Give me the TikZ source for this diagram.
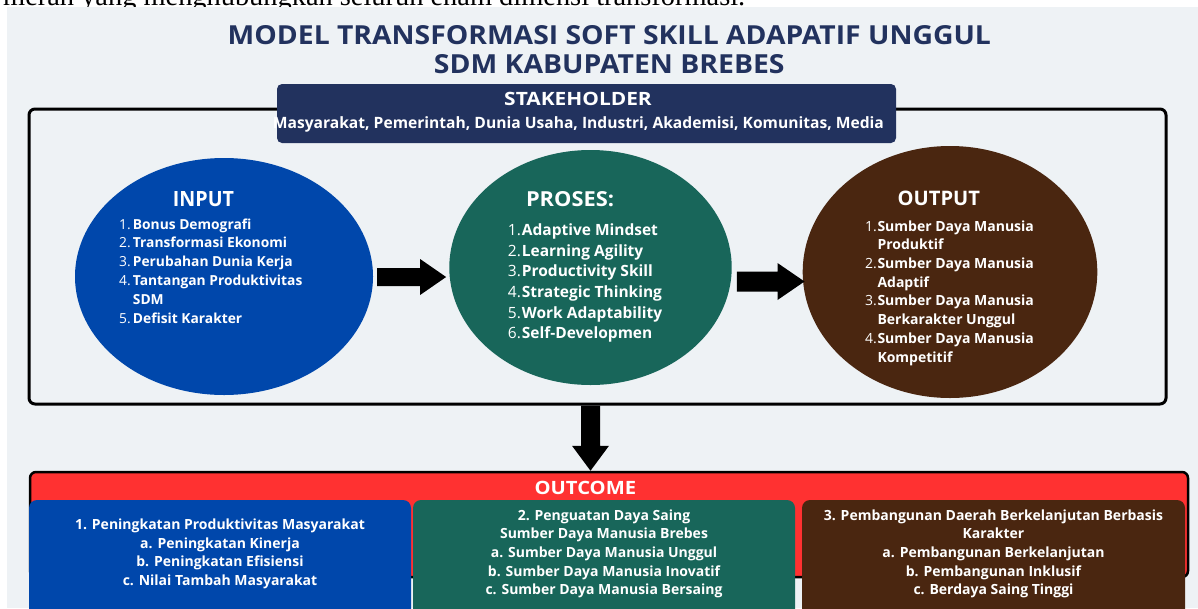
\documentclass[tikz,border=0pt]{standalone}
\usepackage{fontspec}
\setmainfont{Open Sans}
\newfontfamily\leadserif{Liberation Serif}
\usetikzlibrary{shapes.geometric,calc}

\definecolor{pagegrey}{HTML}{EEF2F5}
\definecolor{navyink}{HTML}{22325E}
\definecolor{inblue}{HTML}{0047AB}
\definecolor{procgreen}{HTML}{18665A}
\definecolor{outbrown}{HTML}{4A2610}
\definecolor{outred}{HTML}{FF3131}

\tikzset{
  caps/.style={inner sep=0pt, text=white, font=\bfseries},
  blob/.style={ellipse, inner sep=0pt},
  numtxt/.style={anchor=base west, inner sep=0pt, text=white, font=\fontsize{#1}{#1}\selectfont},
  itemtxt/.style={anchor=base west, inner sep=0pt, text=white, font=\fontsize{#1}{#1}\selectfont\bfseries},
  ocline/.style={anchor=base, inner sep=0pt, text=white, font=\fontsize{14}{16}\selectfont\bfseries},
  ocbox/.style={rectangle, rounded corners=8pt, inner sep=0pt, minimum width=382pt, minimum height=140pt},
  blockfill/.style={fill=black},
}

\begin{document}
\begin{tikzpicture}[x=1pt, y=-1pt]
\useasboundingbox (0,0) rectangle (1198,608);
\clip (0,0) rectangle (1198,608);

% running text of the page above the figure
\node[anchor=base west, inner sep=0pt] (lead) at (3,5)
  {\resizebox{742pt}{!}{\leadserif merah yang menghubungkan seluruh enam dimensi transformasi.}};
\fill[pagegrey] (7.3,7.3) rectangle (1198,608);

% title
\node[inner sep=0pt, text=navyink, font=\bfseries] (title1) at (609.3,35.5)
  {\resizebox{763pt}{19pt}{MODEL TRANSFORMASI SOFT SKILL ADAPATIF UNGGUL}};
\node[inner sep=0pt, text=navyink, font=\bfseries] (title2) at (609.3,64.2)
  {\resizebox{350.6pt}{19pt}{SDM KABUPATEN BREBES}};

% main frame
\node[draw=black, line width=3pt, rounded corners=6pt, minimum width=1137pt,
      minimum height=295pt, inner sep=0pt] (frame) at (597.5,256.5) {};

% stakeholder banner
\node[fill=navyink, rounded corners=5pt, minimum width=619pt, minimum height=59pt,
      inner sep=0pt] (stake) at (586.5,113.5) {};
\node[caps] (stakehead) at (578,99.3) {\resizebox{147.5pt}{13.3pt}{STAKEHOLDER}};
\node[anchor=base, inner sep=0pt, text=white, font=\fontsize{15}{15}\selectfont\bfseries] (stakelist) at (578.4,128.3)
  {\resizebox{611pt}{!}{Masyarakat, Pemerintah, Dunia Usaha, Industri, Akademisi, Komunitas, Media}};

% three stages
\node[blob, fill=inblue, minimum width=298pt, minimum height=237pt] (inp) at (224,276.5) {};
\node[blob, fill=procgreen, minimum width=282.4pt, minimum height=235pt] (pros) at (590.5,267.5) {};
\node[blob, fill=outbrown, minimum width=294.6pt, minimum height=252pt] (outp) at (950,272) {};

\node[caps] (inphead) at (203.5,199.2) {\resizebox{61pt}{15pt}{INPUT}};
\node[caps] (proshead) at (570,199.2) {\resizebox{88pt}{15pt}{PROSES:}};
\node[caps] (outphead) at (938.8,198.5) {\resizebox{82.3pt}{14.5pt}{OUTPUT}};

% input list
\foreach \n/\k in {1./1, 2./2, 3./3, 4./4, 5./6}
  \node[numtxt=13.8] (inpn\k) at (119,{229+18.8*(\k-1)}) {\n};
\foreach \t [count=\i] in {Bonus Demografi, Transformasi Ekonomi, Perubahan Dunia Kerja,
                           Tantangan Produktivitas, SDM, Defisit Karakter}
  \node[itemtxt=13.8] (inpt\i) at (132.7,{229+18.8*(\i-1)}) {\t};

% process list
\foreach \t [count=\i] in {Adaptive Mindset, Learning Agility, Productivity Skill,
                           Strategic Thinking, Work Adaptability, Self-Developmen}
{
  \node[numtxt=15.5] (prosn\i) at (507.7,{235.3+20.7*(\i-1)}) {\i.};
  \node[itemtxt=15.5] (prost\i) at (521.7,{235.3+20.7*(\i-1)}) {\t};
}

% output list
\foreach \n/\k in {1./1, 2./3, 3./5, 4./7}
  \node[numtxt=14] (outpn\k) at (865,{231+18.73*(\k-1)}) {\n};
\foreach \t [count=\i] in {Sumber Daya Manusia, Produktif, Sumber Daya Manusia, Adaptif,
                           Sumber Daya Manusia, Berkarakter Unggul, Sumber Daya Manusia, Kompetitif}
  \node[itemtxt=14] (outpt\i) at (877.3,{231+18.73*(\i-1)}) {\t};

% horizontal block arrows
\coordinate (a1s) at ($(inp.east)+(4,0.5)$);
\coordinate (a1e) at ($(pros.west |- a1s)+(-3,0)$);
\fill[blockfill] ($(a1s)+(0,-9)$) -- ($(a1e)+(-26,-9)$) -- ($(a1e)+(-26,-18)$) -- (a1e)
  -- ($(a1e)+(-26,18)$) -- ($(a1e)+(-26,9)$) -- ($(a1s)+(0,9)$) -- cycle;

\coordinate (a2s) at ($(pros.east)+(5,14)$);
\coordinate (a2e) at ($(outp.west |- a2s)+(2,0)$);
\fill[blockfill] ($(a2s)+(0,-10)$) -- ($(a2e)+(-27,-10)$) -- ($(a2e)+(-27,-18.5)$) -- (a2e)
  -- ($(a2e)+(-27,18.5)$) -- ($(a2e)+(-27,10)$) -- ($(a2s)+(0,10)$) -- cycle;

% outcome panel
\node[draw=black, fill=outred, line width=2.5pt, rounded corners=6pt, minimum width=1158pt,
      minimum height=105pt, inner sep=0pt] (oc) at (609,524.5) {};
\node[caps] (ochead) at (585.4,488.3) {\resizebox{101.6pt}{13.3pt}{OUTCOME}};

% down arrow into the outcome panel
\coordinate (a3s) at (pros.center |- frame.south);
\coordinate (a3e) at (pros.center |- oc.north);
\fill[blockfill] ($(a3s)+(-9.5,0)$) -- ($(a3e)+(-9.5,-25)$) -- ($(a3e)+(-18.5,-25)$) -- (a3e)
  -- ($(a3e)+(18.5,-25)$) -- ($(a3e)+(9.5,-25)$) -- ($(a3s)+(9.5,0)$) -- cycle;

\node[ocbox, fill=inblue] (ob1) at (220,570) {};
\node[ocbox, fill=procgreen] (ob2) at (604,570) {};
\node[ocbox, fill=outbrown, minimum width=383pt] (ob3) at (993.5,570) {};

\foreach \t [count=\i] in {1. Peningkatan Produktivitas Masyarakat, a. Peningkatan Kinerja,
                           b. Peningkatan Efisiensi, c. Nilai Tambah Masyarakat}
  \node[ocline] (ob1t\i) at (220,{529.3+18.8*(\i-1)}) {\t};
\foreach \t [count=\i] in {2. Penguatan Daya Saing, Sumber Daya Manusia Brebes,
                           a. Sumber Daya Manusia Unggul, b. Sumber Daya Manusia Inovatif,
                           c. Sumber Daya Manusia Bersaing}
  \node[ocline] (ob2t\i) at (604,{520+18.7*(\i-1)}) {\t};
\foreach \t [count=\i] in {3. Pembangunan Daerah Berkelanjutan Berbasis, Karakter,
                           a. Pembangunan Berkelanjutan, b. Pembangunan Inklusif,
                           c. Berdaya Saing Tinggi}
  \node[ocline] (ob3t\i) at (993.5,{520+18.7*(\i-1)}) {\t};
\end{tikzpicture}
\end{document}
